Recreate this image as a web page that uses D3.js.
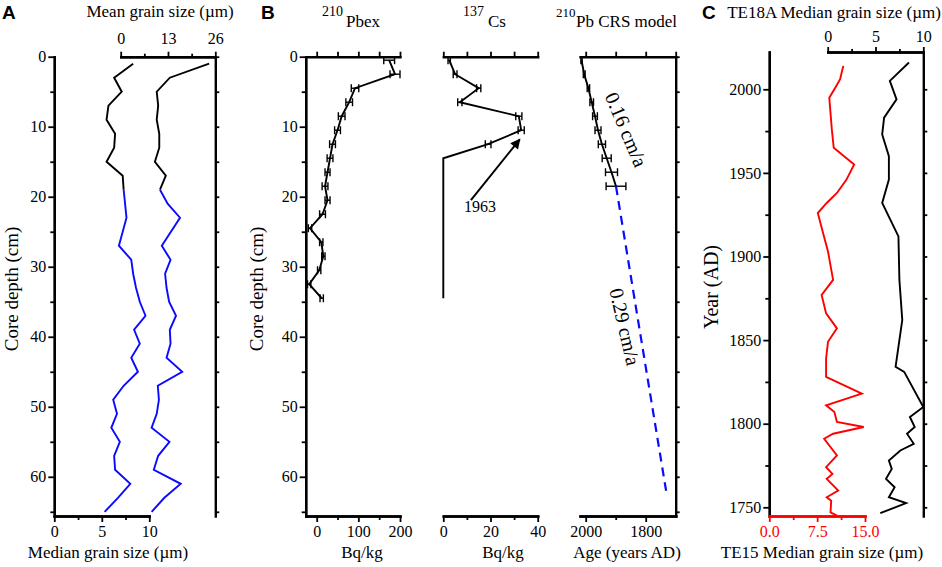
<!DOCTYPE html>
<html>
<head>
<meta charset="utf-8">
<script src="https://cdn.jsdelivr.net/npm/d3@7"></script>
<style>
body { margin: 0; background: #fff; }
</style>
</head>
<body>
<svg id="chart" width="942" height="567"></svg>
<script>
// panel A - grain size against core depth (cm)
var depthMedA = [1, 3, 5, 7, 9, 11, 13, 15, 17, 19, 23, 27, 29, 31, 33, 35, 37, 39, 41, 43, 45, 47, 49, 51, 53, 55, 57, 59, 61, 63, 65];
var medianA = [8.3, 6.3, 7.1, 5.7, 5.5, 6.4, 6.3, 5.5, 7.2, 7.3, 7.6, 6.8, 8.1, 8.3, 8.6, 9.0, 9.6, 8.4, 9.0, 8.1, 8.8, 7.3, 6.2, 6.6, 6.0, 6.9, 6.3, 6.4, 8.0, 6.7, 5.3];
var depthMeanA = [1, 3, 5, 7, 9, 11, 13, 15, 17, 19, 21, 23, 27, 29, 31, 33, 35, 37, 39, 41, 43, 45, 47, 49, 51, 53, 55, 57, 59, 61, 63, 65];
var meanA = [24.3, 13.5, 9.9, 10.3, 9.9, 10.6, 10.6, 9.4, 12.4, 10.8, 12.9, 16.3, 11.3, 13.7, 12.2, 12.6, 13.3, 15.2, 13.5, 13.7, 12.6, 16.9, 10.2, 10.5, 9.9, 8.5, 13.4, 10.3, 9.1, 16.5, 12.0, 8.5];
var splitDepth = 19;

// panel B - 210Pbex
var depthPb = [0.5, 2.5, 4.5, 6.5, 8.5, 10.5, 12.5, 14.5, 16.5, 18.5, 20.5, 22.5, 24.5, 26.5, 28.5, 30.5, 32.5, 34.5];
var pbex = [174, 188, 92, 78, 60, 50, 38, 32, 26, 20, 26, 14, -16, 11, 16, 6, -18, 12];
var pbErr = [13, 12, 9, 8, 8, 7, 7, 7, 6, 7, 6, 7, 4, 4, 4, 4, 4, 4];

// panel B - 137Cs
var depthCs = [0.5, 2.5, 4.5, 6.5, 8.5, 10.5, 12.5, 14.5, 16.5, 18.5, 20.5, 22.5, 24.5, 26.5, 28.5, 30.5, 32.5, 34.5];
var cs = [2.5, 5, 15, 7, 32, 33, 19, 0, 0, 0, 0, 0, 0, 0, 0, 0, 0, 0];
var csErr = [0.5, 0.8, 0.9, 0.9, 1.3, 1.3, 1.2, 0, 0, 0, 0, 0, 0, 0, 0, 0, 0, 0];

// panel B - 210Pb CRS model
var depthCrs = [0.5, 2.5, 4.5, 6.5, 8.5, 10.5, 12.5, 14.5, 16.5, 18.5];
var crsYear = [2014, 2005, 1991, 1980, 1969, 1959, 1946, 1930, 1914, 1899];
var crsErr = [2, 3, 4, 6, 8, 10, 12, 15, 20, 33];
var extDepth = [18.5, 62];
var extYear = [1899, 1732];

// panel C - grain size against year (AD)
var yearTE15 = [2014, 2006, 2002, 1995, 1976, 1965, 1955, 1946, 1938, 1932, 1926, 1913, 1903, 1886, 1877, 1866, 1857, 1849, 1839, 1828, 1818, 1811, 1807, 1801, 1798, 1794, 1791, 1781, 1774, 1770, 1767, 1760, 1756, 1754, 1747, 1745];
var te15 = [11.6, 11.1, 10.5, 9.4, 9.8, 10.1, 13.3, 12.1, 10.6, 9.0, 7.6, 8.5, 9.2, 10.0, 8.2, 8.9, 10.6, 9.2, 8.9, 8.9, 14.5, 8.9, 10.2, 10.6, 14.8, 10.0, 8.6, 10.6, 8.9, 9.9, 9.0, 10.8, 9.0, 9.7, 9.6, 10.6];
var yearTE18A = [2016, 2005, 1994, 1983, 1973, 1960, 1946, 1932, 1912, 1886, 1862, 1834, 1831, 1810, 1804, 1798, 1794, 1788, 1784, 1778, 1773, 1767, 1762, 1756, 1752.5, 1746.5];
var te18a = [8.5, 6.5, 7.2, 5.9, 5.7, 6.4, 6.4, 5.7, 7.4, 7.5, 7.8, 7.1, 8.0, 10.0, 8.6, 9.1, 8.3, 9.0, 7.6, 6.4, 6.7, 6.1, 7.0, 6.4, 8.2, 5.5];

var depthMajor = [0, 10, 20, 30, 40, 50, 60];
var depthMinor = [5, 15, 25, 35, 45, 55, 65];
var depthAll = [0, 5, 10, 15, 20, 25, 30, 35, 40, 45, 50, 55, 60, 65];

var serif = '"Liberation Serif", "Times New Roman", serif';
var sans = '"Liberation Sans", Arial, sans-serif';
var blue = "#0a0aff";
var red = "#ff0000";

var svg = d3.select("#chart");

svg.append("defs").append("marker")
    .attr("id", "head")
    .attr("viewBox", "0 0 10 10")
    .attr("refX", 9)
    .attr("refY", 5)
    .attr("markerWidth", 15)
    .attr("markerHeight", 10)
    .attr("markerUnits", "userSpaceOnUse")
    .attr("orient", "auto")
    .append("path")
    .attr("d", "M0,0L10,5L0,10Z")
    .attr("fill", "#000");

var yDepth = d3.scaleLinear().domain([0, 65.6]).range([56.7, 516]);

function addAxis(gen, x, y, col) {
    col = col || "#000";
    var g = svg.append("g")
        .attr("transform", "translate(" + x + "," + y + ")")
        .call(gen);
    g.attr("font-family", serif).attr("font-size", 16);
    g.select(".domain").attr("stroke", col).attr("stroke-width", 2.4).attr("stroke-linecap", "square");
    g.selectAll(".tick line").attr("stroke", col).attr("stroke-width", 1.8);
    g.selectAll(".tick text").attr("fill", col);
    return g;
}

function label(txt, x, y, size, opts) {
    opts = opts || {};
    var t = svg.append("text")
        .attr("x", x)
        .attr("y", y)
        .attr("font-family", opts.family || serif)
        .attr("font-size", size + "px")
        .attr("font-weight", opts.bold ? "bold" : "normal")
        .attr("text-anchor", opts.anchor || "middle")
        .attr("fill", opts.fill || "#000")
        .text(txt);
    if (opts.rotate) t.attr("transform", "rotate(" + opts.rotate + "," + x + "," + y + ")");
    return t;
}

function drawLine(xs, ys, xScale, yScale, col, dash) {
    var pts = xs.map(function(v, i) { return [v, ys[i]]; });
    var line = d3.line()
        .x(function(d) { return xScale(d[0]); })
        .y(function(d) { return yScale(d[1]); });
    svg.append("path")
        .datum(pts)
        .attr("d", line)
        .attr("fill", "none")
        .attr("stroke", col)
        .attr("stroke-width", dash ? 2.2 : 1.9)
        .attr("stroke-dasharray", dash || null)
        .attr("stroke-linejoin", "miter");
}

function errorBars(vals, errs, depths, xScale) {
    var g = svg.append("g").attr("stroke", "#000").attr("stroke-width", 1.4);
    vals.forEach(function(v, i) {
        if (!errs[i]) return;
        var y = yDepth(depths[i]);
        var x0 = xScale(v - errs[i]), x1 = xScale(v + errs[i]);
        g.append("line").attr("x1", x0).attr("x2", x1).attr("y1", y).attr("y2", y);
        g.append("line").attr("x1", x0).attr("x2", x0).attr("y1", y - 4).attr("y2", y + 4);
        g.append("line").attr("x1", x1).attr("x2", x1).attr("y1", y - 4).attr("y2", y + 4);
    });
}

// ---------- panel A ----------
var xMed = d3.scaleLinear().domain([0, 10]).range([54.3, 149.3]);
var xMean = d3.scaleLinear().domain([0, 26]).range([120.7, 215.3]);

addAxis(d3.axisLeft(yDepth).tickValues(depthMinor).tickSize(4).tickSizeOuter(0).tickFormat(""), 54.3, 0);
addAxis(d3.axisLeft(yDepth).tickValues(depthMajor).tickSize(6).tickPadding(2).tickSizeOuter(0), 54.3, 0);
addAxis(d3.axisRight(yDepth).tickValues(depthAll).tickSize(4).tickSizeOuter(0).tickFormat(""), 215.3, 0);
addAxis(d3.axisBottom(xMed).tickValues([2.5, 7.5]).tickSize(4).tickSizeOuter(0).tickFormat(""), 0, 516);
addAxis(d3.axisBottom(xMed).tickValues([0, 5, 10]).tickSize(6).tickPadding(4).tickSizeOuter(0), 0, 516);
addAxis(d3.axisTop(xMean).tickValues([6.5, 19.5]).tickSize(3).tickSizeOuter(0).tickFormat(""), 0, 56.7);
addAxis(d3.axisTop(xMean).tickValues([0, 13, 26]).tickSize(5).tickPadding(8).tickSizeOuter(0), 0, 56.7);

var medTop = [], medTopD = [], medBot = [], medBotD = [];
depthMedA.forEach(function(d, i) {
    if (d <= splitDepth) { medTop.push(medianA[i]); medTopD.push(d); }
    if (d >= splitDepth) { medBot.push(medianA[i]); medBotD.push(d); }
});
drawLine(medTop, medTopD, xMed, yDepth, "#000");
drawLine(medBot, medBotD, xMed, yDepth, blue);

var meanTop = [], meanTopD = [], meanBot = [], meanBotD = [];
depthMeanA.forEach(function(d, i) {
    if (d <= splitDepth) { meanTop.push(meanA[i]); meanTopD.push(d); }
    if (d >= splitDepth) { meanBot.push(meanA[i]); meanBotD.push(d); }
});
drawLine(meanTop, meanTopD, xMean, yDepth, "#000");
drawLine(meanBot, meanBotD, xMean, yDepth, blue);

label("A", 2, 19, 19, { anchor: "start", bold: true, family: sans });
label("Mean grain size (\u00b5m)", 160, 17, 17);
label("Median grain size (\u00b5m)", 108, 558, 17);
label("Core depth (cm)", 18, 289, 19, { rotate: -90 });

// ---------- panel B : 210Pbex ----------
var xPb = d3.scaleLinear().domain([-26.4, 200]).range([305.7, 400]);

addAxis(d3.axisLeft(yDepth).tickValues(depthMinor).tickSize(4).tickSizeOuter(0).tickFormat(""), 305.7, 0);
addAxis(d3.axisLeft(yDepth).tickValues(depthMajor).tickSize(6).tickPadding(2).tickSizeOuter(0), 305.7, 0);
addAxis(d3.axisTop(xPb).tickValues([0, 50, 100, 150, 200]).tickSize(5).tickSizeOuter(0).tickFormat(""), 0, 56.7);
addAxis(d3.axisBottom(xPb).tickValues([50, 150]).tickSize(4).tickSizeOuter(0).tickFormat(""), 0, 516);
addAxis(d3.axisBottom(xPb).tickValues([0, 100, 200]).tickSize(6).tickPadding(4).tickSizeOuter(0), 0, 516);

drawLine(pbex, depthPb, xPb, yDepth, "#000");
errorBars(pbex, pbErr, depthPb, xPb);

label("B", 261, 19, 19, { anchor: "start", bold: true, family: sans });
label("210", 322, 16, 14, { anchor: "start" });
label("Pbex", 346, 26.5, 17, { anchor: "start" });
label("Core depth (cm)", 263, 289, 19, { rotate: -90 });
label("Bq/kg", 362, 558, 17);

// ---------- panel B : 137Cs ----------
var xCs = d3.scaleLinear().domain([0, 40]).range([443.3, 537.7]);

addAxis(d3.axisTop(xCs).tickValues([0, 10, 20, 30, 40]).tickSize(5).tickSizeOuter(0).tickFormat(""), 0, 56.7);
addAxis(d3.axisBottom(xCs).tickValues([10, 30]).tickSize(4).tickSizeOuter(0).tickFormat(""), 0, 516);
addAxis(d3.axisBottom(xCs).tickValues([0, 20, 40]).tickSize(6).tickPadding(4).tickSizeOuter(0), 0, 516);

drawLine(cs, depthCs, xCs, yDepth, "#000");
errorBars(cs, csErr, depthCs, xCs);

svg.append("line")
    .attr("x1", xCs(11.7)).attr("y1", yDepth(20.5))
    .attr("x2", xCs(32.4)).attr("y2", yDepth(11.8))
    .attr("stroke", "#000")
    .attr("stroke-width", 2)
    .attr("marker-end", "url(#head)");
label("1963", xCs(15.5), yDepth(22.2), 16);

label("137", 463, 16, 14, { anchor: "start" });
label("Cs", 488, 26.5, 17, { anchor: "start" });
label("Bq/kg", 503, 558, 17);

// ---------- panel B : CRS model ----------
var xCrs = d3.scaleLinear().domain([2019, 1700]).range([580, 675.7]);

addAxis(d3.axisTop(xCrs).tickValues([2000, 1900, 1800, 1700]).tickSize(5).tickSizeOuter(0).tickFormat(""), 0, 56.7);
addAxis(d3.axisRight(yDepth).tickValues(depthAll).tickSize(4).tickSizeOuter(0).tickFormat(""), 675.7, 0);
addAxis(d3.axisBottom(xCrs).tickValues([1900]).tickSize(4).tickSizeOuter(0).tickFormat(""), 0, 516);
addAxis(d3.axisBottom(xCrs).tickValues([2000, 1800]).tickSize(6).tickPadding(4).tickSizeOuter(0).tickFormat(d3.format("d")), 0, 516);

drawLine(crsYear, depthCrs, xCrs, yDepth, "#000");
errorBars(crsYear, crsErr, depthCrs, xCrs);
drawLine(extYear, extDepth, xCrs, yDepth, blue, "9,6");

label("0.16 cm/a", xCrs(1886), yDepth(10.8), 20, { rotate: 67 });
label("0.29 cm/a", xCrs(1892), yDepth(38.8), 20, { rotate: 77 });

label("210", 556, 17, 13, { anchor: "start" });
label("Pb CRS model", 576, 26.5, 17, { anchor: "start" });
label("Age (years AD)", 627, 558, 17);

// ---------- panel C ----------
var yYear = d3.scaleLinear().domain([1744.8, 2022.3]).range([516, 52]);
var xTE15 = d3.scaleLinear().domain([0, 15]).range([769.3, 865]);
var xTE18 = d3.scaleLinear().domain([0, 10]).range([827.7, 923.3]);

addAxis(d3.axisLeft(yYear).tickValues([1775, 1825, 1875, 1925, 1975]).tickSize(4).tickSizeOuter(0).tickFormat(""), 769.3, 0);
addAxis(d3.axisLeft(yYear).tickValues([1750, 1800, 1850, 1900, 1950, 2000]).tickSize(6).tickPadding(2).tickSizeOuter(0).tickFormat(d3.format("d")), 769.3, 0);
addAxis(d3.axisRight(yYear).tickValues([1750, 1775, 1800, 1825, 1850, 1875, 1900, 1925, 1950, 1975, 2000]).tickSize(4).tickSizeOuter(0).tickFormat(""), 923.3, 0);
addAxis(d3.axisTop(xTE18).tickValues([2.5, 7.5]).tickSize(3).tickSizeOuter(0).tickFormat(""), 0, 52);
addAxis(d3.axisTop(xTE18).tickValues([0, 5, 10]).tickSize(5).tickPadding(5).tickSizeOuter(0), 0, 52);
addAxis(d3.axisBottom(xTE15).tickValues([3.75, 11.25]).tickSize(4).tickSizeOuter(0).tickFormat(""), 0, 516, red);
addAxis(d3.axisBottom(xTE15).tickValues([0, 7.5, 15]).tickSize(6).tickPadding(4).tickSizeOuter(0).tickFormat(d3.format(".1f")), 0, 516, red);

drawLine(te15, yearTE15, xTE15, yYear, red);
drawLine(te18a, yearTE18A, xTE18, yYear, "#000");

label("C", 702, 19, 19, { anchor: "start", bold: true, family: sans });
label("TE18A Median grain size (\u00b5m)", 834, 18, 17);
label("Year (AD)", 718, 287, 20, { rotate: -90 });
label("TE15 Median grain size (\u00b5m)", 822, 558, 17);
</script>
</body>
</html>
